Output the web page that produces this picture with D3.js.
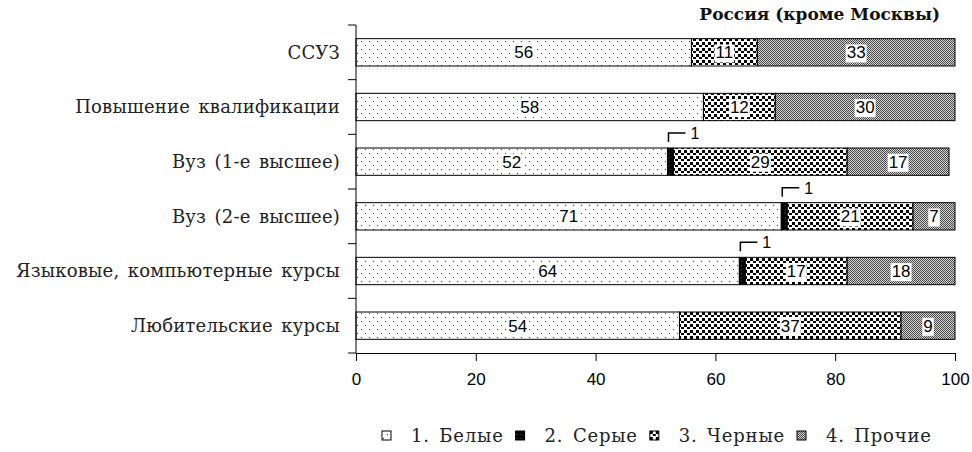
<!DOCTYPE html>
<html>
<head>
<meta charset="utf-8">
<script src="https://cdn.jsdelivr.net/npm/d3@7"></script>
<style>
  body { margin: 0; background: #fff; }
  svg { display: block; }
</style>
</head>
<body>
<svg id="chart" width="972" height="452"></svg>
<script>
const categories = [
  "ССУЗ",
  "Повышение квалификации",
  "Вуз (1-е высшее)",
  "Вуз (2-е высшее)",
  "Языковые, компьютерные курсы",
  "Любительские курсы",
];
const seriesNames = ["1. Белые", "2. Серые", "3. Черные", "4. Прочие"];
const whiteVals = [56, 58, 52, 71, 64, 54];
const grayVals = [0, 0, 1, 1, 1, 0];
const blackVals = [11, 12, 29, 21, 17, 37];
const otherVals = [33, 30, 17, 7, 18, 9];
const xTicks = [0, 20, 40, 60, 80, 100];
const title = "Россия (кроме Москвы)";

const keys = ["white", "gray", "black", "other"];
const rows = categories.map((c, i) => ({
  cat: c,
  white: whiteVals[i],
  gray: grayVals[i],
  black: blackVals[i],
  other: otherVals[i],
}));

const svg = d3.select("#chart");
const serif = "'DejaVu Serif', serif";
const sans = "'Liberation Sans', Arial, sans-serif";

// patterns
const defs = svg.append("defs");
function pattern(id, w, h) {
  return defs
    .append("pattern")
    .attr("id", id)
    .attr("patternUnits", "userSpaceOnUse")
    .attr("width", w)
    .attr("height", h);
}
let p = pattern("pWhite", 8, 8);
p.append("rect").attr("width", 8).attr("height", 8).attr("fill", "#fff");
p.append("rect").attr("x", 1).attr("y", 1).attr("width", 1).attr("height", 1).attr("fill", "#333");
p.append("rect").attr("x", 5).attr("y", 5).attr("width", 1).attr("height", 1).attr("fill", "#333");

p = pattern("pGray", 4, 4);
p.append("rect").attr("width", 4).attr("height", 4).attr("fill", "#000");
p.append("rect").attr("x", 1).attr("y", 1).attr("width", 1).attr("height", 1).attr("fill", "#444");

p = pattern("pBlack", 6, 6);
p.append("rect").attr("width", 6).attr("height", 6).attr("fill", "#fff");
p.append("rect").attr("x", 0).attr("y", 0).attr("width", 3).attr("height", 3).attr("fill", "#000");
p.append("rect").attr("x", 3).attr("y", 3).attr("width", 3).attr("height", 2).attr("fill", "#000");

p = pattern("pOther", 2, 2);
p.append("rect").attr("width", 2).attr("height", 2).attr("fill", "#d8d8d8");
p.append("rect").attr("x", 0).attr("y", 0).attr("width", 1).attr("height", 1).attr("fill", "#444");
p.append("rect").attr("x", 1).attr("y", 1).attr("width", 1).attr("height", 1).attr("fill", "#444");

const fills = {
  white: "url(#pWhite)",
  gray: "url(#pGray)",
  black: "url(#pBlack)",
  other: "url(#pOther)",
};

const x = d3.scaleLinear().domain([0, 100]).range([356, 955]);
const y = d3
  .scaleBand()
  .domain(categories)
  .range([25, 353])
  .paddingInner(0.5)
  .paddingOuter(0.25);

const stacked = d3.stack().keys(keys)(rows);

// bars
const layers = svg
  .selectAll(".layer")
  .data(stacked)
  .enter()
  .append("g")
  .attr("class", "layer")
  .attr("fill", (d) => fills[d.key]);

layers
  .selectAll("rect")
  .data((d) => d.filter((s) => s[1] - s[0] > 0))
  .enter()
  .append("rect")
  .attr("x", (d) => x(d[0]))
  .attr("y", (d) => y(d.data.cat))
  .attr("width", (d) => x(d[1]) - x(d[0]))
  .attr("height", y.bandwidth())
  .attr("stroke", "#000")
  .attr("stroke-width", 1);

// axes
const step = y.step();
const yTop = y(categories[0]) - step * 0.25;
const boundaries = d3.range(categories.length + 1).map((k) => yTop + k * step);

svg
  .append("line")
  .attr("x1", x(0))
  .attr("x2", x(0))
  .attr("y1", boundaries[0])
  .attr("y2", boundaries[boundaries.length - 1])
  .attr("stroke", "#000");

svg
  .selectAll(".ytick")
  .data(boundaries)
  .enter()
  .append("line")
  .attr("x1", x(0) - 8)
  .attr("x2", x(0))
  .attr("y1", (d) => d)
  .attr("y2", (d) => d)
  .attr("stroke", "#000");

const xAxis = svg
  .append("g")
  .attr("transform", `translate(0,${boundaries[boundaries.length - 1]})`)
  .call(d3.axisBottom(x).tickValues(xTicks).tickSize(8).tickSizeOuter(0).tickPadding(12));
xAxis.select(".domain").attr("stroke", "#000");
xAxis.selectAll("line").attr("stroke", "#000");
xAxis
  .selectAll("text")
  .attr("font-family", sans)
  .attr("font-size", 17)
  .attr("fill", "#000");

// category labels
svg
  .selectAll(".cat")
  .data(categories)
  .enter()
  .append("text")
  .attr("x", 340)
  .attr("y", (d) => y(d) + y.bandwidth() / 2)
  .attr("dy", "0.35em")
  .attr("text-anchor", "end")
  .attr("font-family", serif)
  .attr("font-size", 18)
  .attr("letter-spacing", 0.2)
  .attr("word-spacing", 2.5)
  .attr("fill", "#222")
  .text((d) => d);

// value labels
const labels = [];
stacked.forEach((layer) => {
  layer.forEach((s) => {
    const v = s[1] - s[0];
    if (v > 0) labels.push({ v, x0: s[0], x1: s[1], cat: s.data.cat });
  });
});

const inside = labels.filter((d) => d.v > 2);
const insideG = svg.selectAll(".vlab").data(inside).enter().append("g");
insideG
  .append("text")
  .attr("x", (d) => x((d.x0 + d.x1) / 2))
  .attr("y", (d) => y(d.cat) + y.bandwidth() / 2)
  .attr("dy", "0.36em")
  .attr("text-anchor", "middle")
  .attr("font-family", sans)
  .attr("font-size", 17)
  .attr("fill", "#000")
  .text((d) => d.v);
insideG.each(function () {
  const g = d3.select(this);
  const b = g.select("text").node().getBBox();
  g.insert("rect", "text")
    .attr("x", b.x - 1)
    .attr("y", b.y + 1)
    .attr("width", b.width + 2)
    .attr("height", b.height - 1)
    .attr("fill", "#fff");
});

// small values with leader
const small = labels.filter((d) => d.v <= 2);
small.forEach((d) => {
  const cx = x((d.x0 + d.x1) / 2) - 2;
  const top = y(d.cat);
  svg
    .append("path")
    .attr("d", `M${cx},${top - 6}V${top - 15}H${cx + 17}`)
    .attr("fill", "none")
    .attr("stroke", "#000")
    .attr("stroke-width", 1.5);
  svg
    .append("text")
    .attr("x", cx + 22)
    .attr("y", top - 9)
    .attr("font-family", sans)
    .attr("font-size", 16)
    .attr("fill", "#000")
    .text(d.v);
});

// title
svg
  .append("text")
  .attr("x", 940)
  .attr("y", 20)
  .attr("text-anchor", "end")
  .attr("font-family", serif)
  .attr("font-weight", "bold")
  .attr("font-size", 17)
  .attr("fill", "#111")
  .text(title);

// legend
const legend = svg.append("g").attr("transform", "translate(382,437)");
let lx = 0;
seriesNames.forEach((name, i) => {
  const item = legend.append("g").attr("transform", `translate(${lx},0)`);
  item
    .append("rect")
    .attr("x", 0)
    .attr("y", -6)
    .attr("width", 9)
    .attr("height", 9)
    .attr("fill", fills[keys[i]])
    .attr("stroke", "#000")
    .attr("stroke-width", 1);
  const t = item
    .append("text")
    .attr("x", 29)
    .attr("y", 0)
    .attr("dy", "0.3em")
    .attr("font-family", serif)
    .attr("font-size", 18)
    .attr("letter-spacing", 0.8)
    .attr("word-spacing", 3)
    .attr("fill", "#222")
    .text(name);
  lx += 29 + t.node().getComputedTextLength() + 12;
});
</script>
</body>
</html>
